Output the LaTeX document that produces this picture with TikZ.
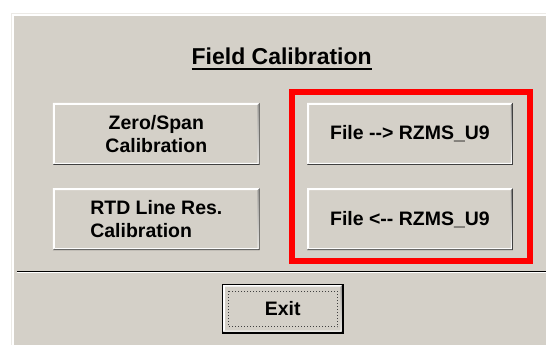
\documentclass[tikz,border=0pt]{standalone}
\usepackage{fontspec}
\setmainfont{Liberation Sans}
\usetikzlibrary{positioning}
\definecolor{face}{RGB}{212,208,200}
\definecolor{shade}{RGB}{128,128,128}
\definecolor{darkshade}{RGB}{64,64,64}
\definecolor{lightedge}{RGB}{236,234,230}

\begin{document}
\begin{tikzpicture}[x=1pt,y=-1pt,
	btnfont/.style={font=\fontsize{19.5}{23.5}\selectfont\bfseries},
	winbtn/.style={btnfont, fill=face, inner sep=0pt, align=center,
		minimum width=207pt, minimum height=62pt,
		path picture={
			\coordinate (pa) at (path picture bounding box.south west);
			\coordinate (pb) at (path picture bounding box.north east);
			\fill[white] (pa) |- (pb) -- ([shift={(-2pt,-2pt)}]pb) -| ([shift={(2pt,2pt)}]pa) -- cycle;
			\fill[darkshade] (pa) -| (pb) -- ([shift={(-1pt,-1pt)}]pb) |- ([shift={(1pt,1pt)}]pa) -- cycle;
			\fill[shade] ([shift={(1pt,1pt)}]pa) -| ([shift={(-1pt,-1pt)}]pb) -- ([shift={(-2pt,-2pt)}]pb) |- ([shift={(2pt,2pt)}]pa) -- cycle;
		}},
	node distance=23pt and 47pt]
	% window background
	\fill[white] (0,0) rectangle (547,345);
	\fill[face] (11,13) rectangle (547,345);
	\draw[lightedge, line width=1.2pt] (11.6,345) -- (11.6,13.6) -- (547,13.6);
	\draw[white, line width=1.2pt] (13,345) -- (13,15) -- (547,15);
	% title
	\node[font=\fontsize{23}{27}\selectfont\bfseries, inner sep=0pt, anchor=base] (title) at (282,65) {Field Calibration};
	\draw[line width=2pt] ([yshift=-4.5pt]title.base west) -- ([yshift=-4.5pt]title.base east);
	% buttons
	\node[winbtn] (zerospan) at (156.5,134) {Zero/Span\\Calibration};
	\node[winbtn, below=of zerospan, align=left] (rtdline) {RTD Line Res.\\Calibration};
	\node[winbtn, right=of zerospan, minimum width=206pt] (tofile) {File -{}-> RZMS\_U9};
	\node[winbtn, below=of tofile, minimum width=206pt] (fromfile) {File <-{}- RZMS\_U9};
	% highlight round the file buttons
	\draw[red, line width=6pt] (292,92) rectangle (531,261);
	% separator
	\draw[shade, line width=1.2pt] (17,271.5) -- (547,271.5);
	\draw[white, line width=1.2pt] (17,273) -- (547,273);
	% exit (default button)
	\node[winbtn, minimum width=120pt, minimum height=48pt] (exit) at (283,309) {Exit};
	\draw[line width=1.5pt] (exit.south west) rectangle (exit.north east);
	\draw[dotted, line width=1pt, darkshade] ([shift={(6pt,-7pt)}]exit.north west) rectangle ([shift={(-5pt,6pt)}]exit.south east);
\end{tikzpicture}
\end{document}
